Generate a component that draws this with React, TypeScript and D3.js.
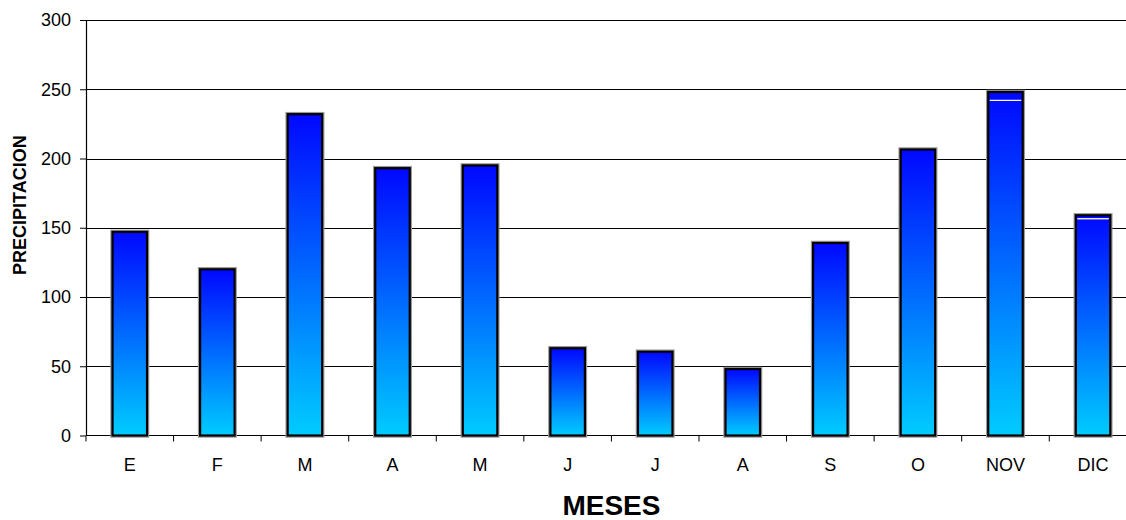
import React, { useRef, useEffect } from 'react';
import * as d3 from 'd3';

// Monthly precipitation
const meses = ['E', 'F', 'M', 'A', 'M', 'J', 'J', 'A', 'S', 'O', 'NOV', 'DIC'];
const precipitacion = [147, 120, 232, 193, 195, 63, 60.5, 48, 139, 206.5, 242, 156.5];
// small stacked segment on top (shows as white separator line)
const adicional = [0, 0, 0, 0, 0, 0, 0, 0, 0, 0, 6, 2.5];
const yTicks = [0, 50, 100, 150, 200, 250, 300];

const WIDTH = 1126;
const HEIGHT = 520;
const FONT = '"Liberation Sans", Arial, sans-serif';

export default function App() {
  const svgRef = useRef<SVGSVGElement>(null);

  useEffect(() => {
    if (!svgRef.current) return;
    const svg = d3.select(svgRef.current);
    svg.selectAll('*').remove();

    const left = 86;
    const band = 87.57;
    const top = 20;
    const bottom = 435.5;

    const x = d3.scaleBand<number>()
      .domain(meses.map((_, i) => i))
      .range([left, left + band * meses.length])
      .padding(0);

    const y = d3.scaleLinear().domain([0, 300]).range([bottom, top]);

    const defs = svg.append('defs');
    const grad = defs.append('linearGradient')
      .attr('id', 'barGrad')
      .attr('x1', 0).attr('y1', 0).attr('x2', 0).attr('y2', 1);
    grad.append('stop').attr('offset', '0%').attr('stop-color', '#0008ff');
    grad.append('stop').attr('offset', '100%').attr('stop-color', '#00ccff');

    // Grid lines
    svg.append('g')
      .selectAll('line')
      .data(yTicks.filter(d => d > 0))
      .join('line')
      .attr('x1', left)
      .attr('x2', WIDTH)
      .attr('y1', d => Math.round(y(d)) + 0.5)
      .attr('y2', d => Math.round(y(d)) + 0.5)
      .attr('stroke', '#000')
      .attr('stroke-width', 1);

    // Y axis
    const yAxis = svg.append('g')
      .attr('transform', `translate(${left},0)`)
      .call(d3.axisLeft(y).tickValues(yTicks).tickSize(6).tickPadding(9).tickSizeOuter(0));
    yAxis.select('.domain').attr('stroke', '#000').attr('stroke-width', 1.2);
    yAxis.selectAll('.tick line').attr('stroke', '#000');
    yAxis.selectAll('text')
      .style('font-family', FONT)
      .style('font-size', '18px')
      .style('fill', '#000');

    // X axis
    const xAxis = svg.append('g')
      .attr('transform', `translate(0,${bottom})`);
    xAxis.append('line')
      .attr('x1', left).attr('x2', WIDTH)
      .attr('y1', 0).attr('y2', 0)
      .attr('stroke', '#000').attr('stroke-width', 1.2);
    xAxis.selectAll('line.tick')
      .data(d3.range(meses.length + 1))
      .join('line')
      .attr('class', 'tick')
      .attr('x1', i => left + i * x.bandwidth())
      .attr('x2', i => left + i * x.bandwidth())
      .attr('y1', 0).attr('y2', 6)
      .attr('stroke', '#000');
    xAxis.selectAll('text')
      .data(meses)
      .join('text')
      .attr('x', (_, i) => x(i)! + x.bandwidth() / 2)
      .attr('y', 35.5)
      .attr('text-anchor', 'middle')
      .style('font-family', FONT)
      .style('font-size', '18px')
      .text(d => d);

    // Bars
    const barW = 34.5;
    const bars = svg.append('g')
      .selectAll('g')
      .data(meses.map((m, i) => ({ m, i, base: precipitacion[i], extra: adicional[i] })))
      .join('g');

    bars.append('rect')
      .attr('x', d => x(d.i)! + x.bandwidth() / 2 - barW / 2)
      .attr('y', d => y(d.base + d.extra))
      .attr('width', barW)
      .attr('height', d => bottom - y(d.base + d.extra))
      .attr('fill', 'none')
      .attr('stroke', '#999')
      .attr('stroke-width', 4.5);

    bars.append('rect')
      .attr('x', d => x(d.i)! + x.bandwidth() / 2 - barW / 2)
      .attr('y', d => y(d.base + d.extra))
      .attr('width', barW)
      .attr('height', d => bottom - y(d.base + d.extra))
      .attr('fill', 'url(#barGrad)')
      .attr('stroke', '#000')
      .attr('stroke-width', 2.2);

    bars.filter(d => d.extra > 0)
      .append('line')
      .attr('x1', d => x(d.i)! + x.bandwidth() / 2 - barW / 2 + 1.5)
      .attr('x2', d => x(d.i)! + x.bandwidth() / 2 + barW / 2 - 1.5)
      .attr('y1', d => y(d.base))
      .attr('y2', d => y(d.base))
      .attr('stroke', '#fff')
      .attr('stroke-width', 1.3);

    // Axis titles
    svg.append('text')
      .attr('x', left + (meses.length * band) / 2)
      .attr('y', 515)
      .attr('text-anchor', 'middle')
      .style('font-family', FONT)
      .style('font-size', '28px')
      .style('font-weight', 'bold')
      .text('MESES');

    svg.append('text')
      .attr('transform', 'translate(25.5,275) rotate(-90)')
      .attr('text-anchor', 'start')
      .style('font-family', FONT)
      .style('font-size', '18px')
      .style('font-weight', 'bold')
      .text('PRECIPITACION');
  }, []);

  return (
    <div>
      <style>{'body{margin:0;}'}</style>
      <svg ref={svgRef} width={WIDTH} height={HEIGHT} style={{ display: 'block', background: '#fff' }} />
    </div>
  );
}
